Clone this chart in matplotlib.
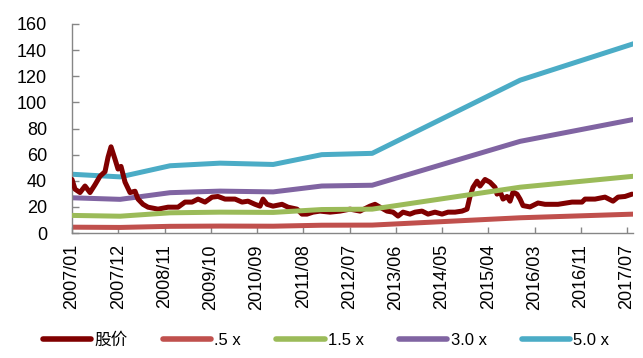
import matplotlib
matplotlib.use("Agg")
import matplotlib.pyplot as plt
import numpy as np

plt.rcParams['font.family'] = ['Liberation Sans', 'Noto Sans CJK SC', 'DejaVu Sans']

# x tick labels (category positions 0..12)
tick_labels = ["2007/01", "2007/12", "2008/11", "2009/10", "2010/09", "2011/08",
               "2012/07", "2013/06", "2014/05", "2015/04", "2016/03", "2016/11", "2017/07"]

# valuation band breakpoints (positions in tick units)
band_pos = [0.0, 1.04, 2.12, 3.2, 4.35, 5.4, 6.49, 9.69, 12.15]
band_05 = [4.5, 4.3, 5.15, 5.35, 5.25, 6.0, 6.1, 11.7, 14.5]
band_15 = [13.5, 12.9, 15.5, 16.0, 15.8, 18.0, 18.3, 35.1, 43.5]
band_30 = [27.0, 25.8, 30.9, 32.1, 31.5, 36.0, 36.6, 70.2, 87.0]
band_50 = [45.0, 43.0, 51.5, 53.5, 52.5, 60.0, 61.0, 117.0, 145.0]

# share price (pixel x, converted to tick units below)
price_px = [72, 75, 80, 85, 90, 95, 100, 105, 108, 111, 115, 118, 121, 125, 130, 135, 138,
            143, 148, 158, 168, 178, 185, 192, 198, 205, 212, 218, 225, 235, 242, 248, 255,
            260, 263, 267, 273, 282, 288, 297, 302, 307, 313, 320, 330, 340, 350, 360, 370,
            375, 380, 387, 393, 398, 403, 410, 415, 422, 428, 435, 442, 448, 455, 462, 467,
            470, 473, 477, 480, 485, 490, 495, 497, 500, 503, 507, 510, 513, 517, 520, 523,
            530, 538, 545, 558, 572, 582, 585, 595, 605, 613, 618, 625, 632]
price_val = [41, 33.6, 31, 36, 31, 37, 43.5, 47, 58, 66, 56.5, 49, 51, 39, 31, 32, 26,
             22, 19.8, 18.3, 19.8, 19.8, 23.7, 23.7, 26, 23.7, 27.5, 28, 26, 26, 23.7, 24.4, 22,
             20.6, 26, 22, 20.6, 22, 19.8, 18.3, 14.5, 14.5, 16, 16.8, 16, 16.8, 18.3, 16.8, 20.6,
             22, 19.8, 16.8, 16, 13, 16, 14.5, 16, 16.8, 14.5, 16, 14.5, 16, 16, 16.8, 18.3,
             28, 35, 39.7, 36, 41, 38.9, 35, 29.8, 32, 26, 28, 24.4, 31.3, 29.8, 26, 21,
             20, 23, 22, 22, 23.7, 23.7, 26, 26, 27.5, 24.4, 27.5, 28, 29.8]
price_pos = [(p - 72) / 46.25 for p in price_px]

fig = plt.figure(figsize=(6.43, 3.58), dpi=100)
ax = fig.add_axes([0.112, 0.349, 0.8725, 0.584])

lw = 3.6
ax.plot(price_pos, price_val, color='#800000', lw=lw, label='股价', solid_capstyle='round', solid_joinstyle='round', zorder=3)
ax.plot(band_pos, band_05, color='#C0504D', lw=lw, label='.5 x', solid_capstyle='round')
ax.plot(band_pos, band_15, color='#9BBB59', lw=lw, label='1.5 x', solid_capstyle='round', zorder=4)
ax.plot(band_pos, band_30, color='#8064A2', lw=lw, label='3.0 x', solid_capstyle='round')
ax.plot(band_pos, band_50, color='#4BACC6', lw=lw, label='5.0 x', solid_capstyle='round')

ax.set_xlim(0, 12.13)
ax.set_ylim(0, 160)
ax.set_yticks(np.arange(0, 161, 20))
ax.set_xticks(range(len(tick_labels)))
ax.set_xticklabels(tick_labels, rotation=90)

for s in ['top', 'right']:
    ax.spines[s].set_visible(False)
for s in ['left', 'bottom']:
    ax.spines[s].set_color('#868686')
    ax.spines[s].set_linewidth(1.0)

ax.tick_params(axis='y', direction='in', length=5, width=1, color='#868686', labelsize=13, pad=18)
ax.tick_params(axis='x', direction='in', length=4, width=1, color='#868686', labelsize=13, pad=8)

leg = fig.legend(loc='center', bbox_to_anchor=(0.507, 0.05), ncol=5, frameon=False,
                 fontsize=12, handlelength=2.9, handletextpad=0.2, columnspacing=2.1)
for line in leg.get_lines():
    line.set_linewidth(4)
    line.set_solid_capstyle('round')

fig.savefig('out.png', dpi=100)
